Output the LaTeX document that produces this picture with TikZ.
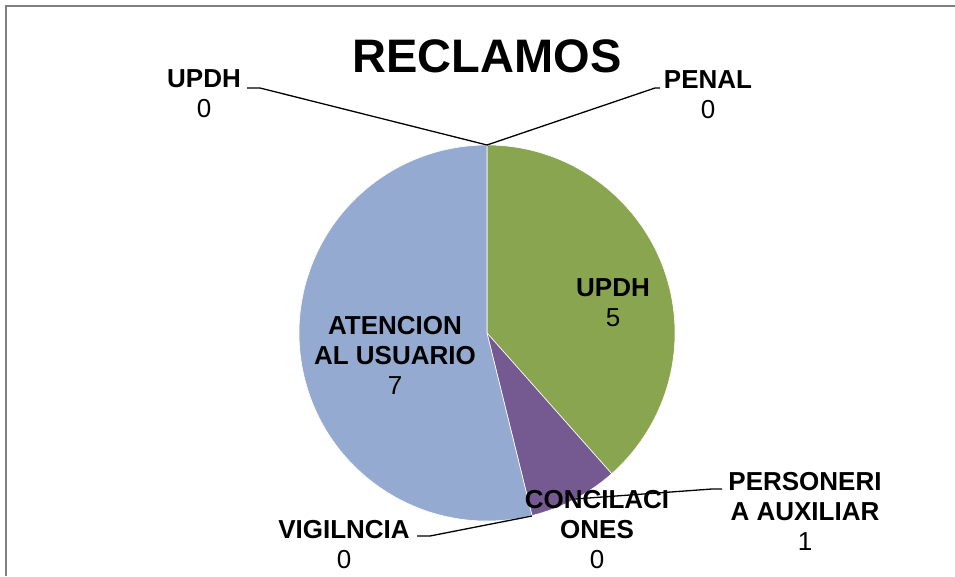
\documentclass[tikz,border=0pt]{standalone}
\usepackage{fontspec}
\setmainfont{Liberation Sans}
\definecolor{sliceGreen}{RGB}{137,165,80}
\definecolor{sliceBlue}{RGB}{149,170,208}
\definecolor{slicePurple}{RGB}{116,90,145}
\begin{document}
\begin{tikzpicture}[x=1pt,y=1pt]
        \tikzstyle{lbl}=[align=center,anchor=base,inner sep=0pt,font=\fontsize{26}{30}\selectfont]
        \tikzstyle{leader}=[draw, line width=1.3pt, black]
        \tikzstyle{slice}=[draw=white, line width=0.6pt]
        \useasboundingbox (0,0) rectangle (955,576);
        \draw[gray, line width=1.5pt] (6,0) -- (6,570) -- (955,570);

        % pie, centre (487,243), radius 188
        \path[slice, fill=sliceGreen] (487,243) -- ++(90:188) arc (90:-48.46:188) -- cycle;
        \path[slice, fill=slicePurple] (487,243) -- ++(-48.46:188) arc (-48.46:-76.15:188) -- cycle;
        \path[slice, fill=sliceBlue] (487,243) -- ++(-76.15:188) arc (-76.15:-270:188) -- cycle;

        \coordinate (top) at (487,431);
        \coordinate (pers) at (575,77);
        \coordinate (vig) at (532,60);

        \node [lbl, font=\fontsize{47}{50}\selectfont\bfseries] (title) at (487,503) {RECLAMOS};

        % base = baseline of the last line
        \node [lbl] (updhA) at (204,458) {\textbf{UPDH}\\0};
        \node [lbl] (penal) at (708,457) {\textbf{PENAL}\\0};
        \node [lbl] (updhB) at (613,249) {\textbf{UPDH}\\5};
        \node [lbl] (atenc) at (395,182) {\textbf{ATENCION}\\\textbf{AL USUARIO}\\7};
        \node [lbl] (conci) at (597,8) {\textbf{CONCILACI}\\\textbf{ONES}\\0};
        \node [lbl] (perso) at (805,26) {\textbf{PERSONERI}\\\textbf{A AUXILIAR}\\1};
        \node [lbl] (vigil) at (344,8) {\textbf{VIGILNCIA}\\0};

        \path[leader] (top) -- (260,488) -- (247,488);
        \path[leader] (top) -- (655,488) -- (660,488);
        \path[leader] (pers) -- (712,87) -- (722,87);
        \path[leader] (vig) -- (430,40) -- (417,40);
\end{tikzpicture}
\end{document}
